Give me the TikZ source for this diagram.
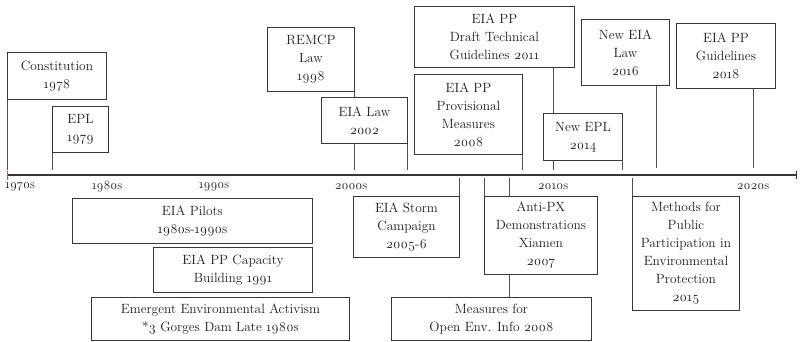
\documentclass[tikz,border=0pt]{standalone}
\usepackage{fontspec}
\setmainfont{Latin Modern Roman}[Numbers=OldStyle]
\usepackage{tikz}
\usetikzlibrary{arrows.meta}
\pgfdeclarelayer{background}
\pgfdeclarelayer{foreground}
\pgfsetlayers{background,main,foreground}
\definecolor{boxline}{RGB}{55,55,55}
\definecolor{stem}{RGB}{80,80,80}
\definecolor{evtext}{RGB}{30,30,30}
\definecolor{startmark}{RGB}{200,70,150}
\tikzset{
  evt/.style={draw=boxline, line width=0.9pt, fill=white, text=evtext, align=center,
    inner sep=0pt, anchor=north west, font=\fontsize{13.4}{18}\selectfont},
  decade/.style={text=evtext, inner sep=0pt, font=\fontsize{12.5}{14}\selectfont},
  stemline/.style={draw=stem, line width=0.9pt}
}

\begin{document}
\begin{tikzpicture}[x=1pt,y=-1pt]
\useasboundingbox (0,0) rectangle (802,342);
\begin{pgfonlayer}{foreground}
% above the line
\node[evt, minimum width=99pt, minimum height=47pt] (cons) at (7,52) {Constitution\\1978};
\node[evt, minimum width=56pt, minimum height=46pt] (epl) at (52,106) {EPL\\1979};
\node[evt, minimum width=87pt, minimum height=64pt] (remcp) at (267,27) {REMCP\\Law\\1998};
\node[evt, minimum width=86pt, minimum height=46pt] (eialaw) at (321,97) {EIA Law\\2002};
\node[evt, minimum width=160pt, minimum height=61pt] (draft) at (414,6) {EIA PP\\Draft Technical\\Guidelines 2011};
\node[evt, minimum width=108pt, minimum height=80pt] (prov) at (414,74) {EIA PP\\Provisional\\Measures\\2008};
\node[evt, minimum width=79pt, minimum height=47pt] (newepl) at (543,113) {New EPL\\2014};
\node[evt, minimum width=88pt, minimum height=66pt] (neweia) at (581,19) {New EIA\\Law\\2016};
\node[evt, minimum width=99pt, minimum height=65pt] (guide) at (676,23) {EIA PP\\Guidelines\\2018};
% below the line
\node[evt, minimum width=240pt, minimum height=45pt] (pilots) at (72,198) {EIA Pilots\\1980s-1990s};
\node[evt, minimum width=159pt, minimum height=45pt] (capacity) at (153,247) {EIA PP Capacity\\Building 1991};
\node[evt, minimum width=258pt, minimum height=43pt] (activism) at (91,297) {Emergent Environmental Activism\\*3 Gorges Dam Late 1980s};
\node[evt, minimum width=106pt, minimum height=61pt] (storm) at (353,196) {EIA Storm\\Campaign\\2005-6};
\node[evt, minimum width=113pt, minimum height=78pt] (antipx) at (484,196) {Anti-PX\\Demonstrations\\Xiamen\\2007};
\node[evt, minimum width=200pt, minimum height=43pt] (openinfo) at (391,297) {Measures for\\Open Env. Info 2008};
\node[evt, minimum width=107pt, minimum height=114pt] (methods) at (632,196) {Methods for\\Public\\Participation in\\Environmental\\Protection\\2015};
\end{pgfonlayer}

% time line and decades
\coordinate (t0) at (7,175);
\coordinate (t1) at (797,175);
\coordinate (up) at (0,170);
\coordinate (dn) at (0,178);
\draw[line width=1.6pt, draw=boxline, -{Bar[width=8pt,line width=0.8pt]}] (t0) -- (t1);
\draw[startmark, line width=1pt] (7,171) -- (7,180);
\node[decade] (d1970) at (20,187) {1970s};
\node[decade] (d1980) at (107,187) {1980s};
\node[decade] (d1990) at (214,187) {1990s};
\node[decade] (d2000) at (351,187) {2000s};
\node[decade] (d2010) at (553,187) {2010s};
\node[decade] (d2020) at (753,187) {2020s};

\begin{pgfonlayer}{background}
\coordinate (s2014) at (656,0);
\coordinate (s2018) at (753,0);
\coordinate (s2008) at (509,0);
\draw[stemline] (cons.south west) -- (cons.south west |- up);
\draw[stemline] (epl.south west) -- (epl.south west |- up);
\draw[stemline] (remcp.south east) -- (remcp.south east |- up);
\draw[stemline] (eialaw.south east) -- (eialaw.south east |- up);
\draw[stemline] (d2010 |- draft.south) -- (d2010 |- up);
\draw[stemline] (prov.south east) -- (prov.south east |- up);
\draw[stemline] (newepl.south east) -- (newepl.south east |- up);
\draw[stemline] (s2014 |- neweia.south) -- (s2014 |- 0,168);
\draw[stemline] (s2018 |- guide.south) -- (s2018 |- 0,168);
\draw[stemline] (storm.north east) -- (storm.north east |- dn);
\draw[stemline] (antipx.north west) -- (antipx.north west |- dn);
\draw[stemline] (s2008 |- openinfo.north) -- (s2008 |- dn);
\draw[stemline] (methods.north west) -- (methods.north west |- dn);
\end{pgfonlayer}
\end{tikzpicture}
\end{document}
